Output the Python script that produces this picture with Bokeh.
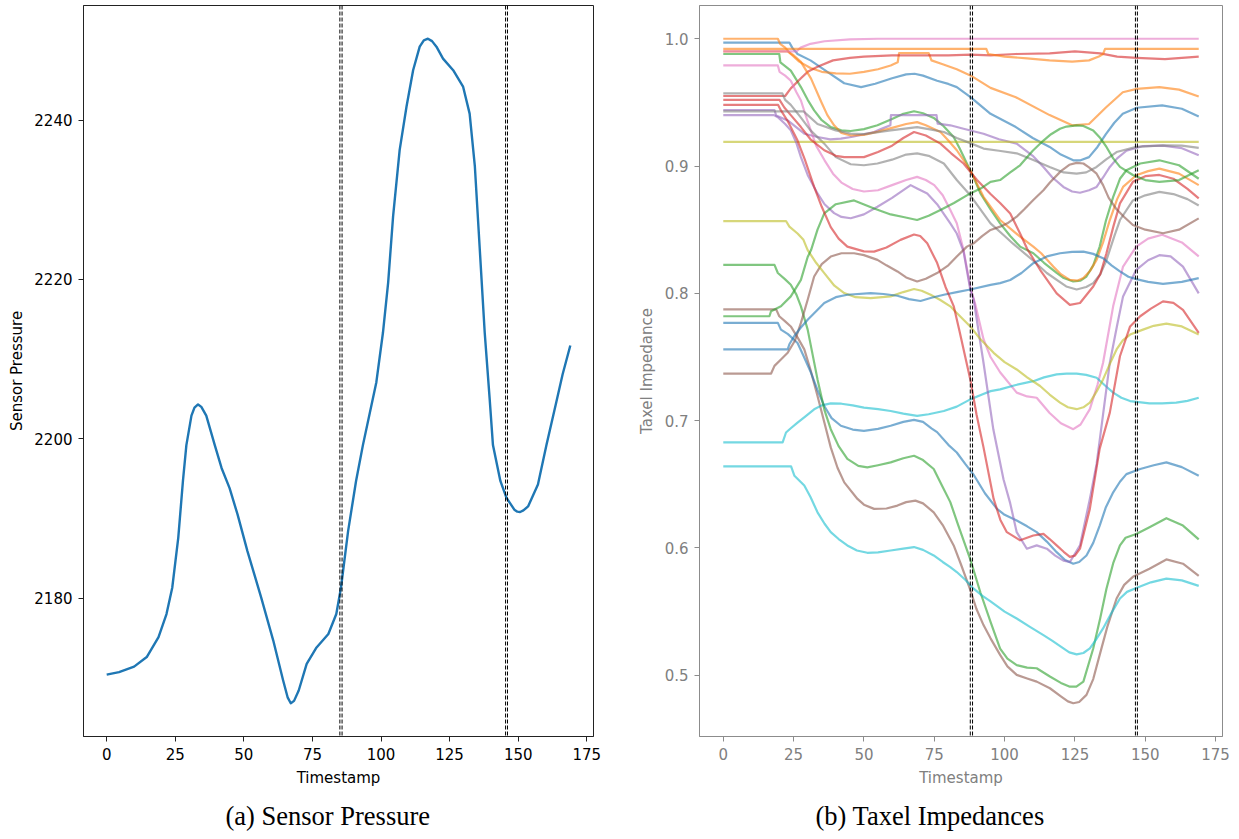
from bokeh.plotting import figure
from bokeh.layouts import row
from bokeh.models import Range1d, FixedTicker, PrintfTickFormatter, Span, Title
from bokeh.embed import file_html
from bokeh.resources import INLINE

# ---------------- sensor pressure trace ----------------
pressure_t = [0, 4.5, 10, 14.6, 18.9, 21.8, 23.9, 26.1, 27.8, 29.05, 30.9, 32.0, 33.3, 34.5,
              36.3, 39.4, 41.9, 44.8, 47.7, 51.3, 56.3, 60.7, 64.3, 66.0, 67.1, 68.3, 70, 72.9,
              76.5, 80.8, 83.7, 85.4, 88, 90.9, 93.4, 98.3, 100.7, 102.6, 104.4, 106.8, 109.3,
              111.7, 114.1, 115.6, 117.1, 118.6, 120.2, 122.6, 126.3, 129.9, 132.3, 134.2, 136,
              137.8, 139.6, 140.8, 143.5, 145.7, 148.6, 149.7, 150.7, 151.9, 153.6, 157.2,
              160.3, 163.9, 166.2, 169]
pressure_v = [2170.4, 2170.7, 2171.4, 2172.6, 2175.1, 2178.0, 2181.3, 2187.6, 2194.7, 2199.2,
              2202.9, 2203.9, 2204.3, 2204.0, 2202.9, 2199.2, 2196.3, 2193.8, 2190.5, 2185.9,
              2180.1, 2174.7, 2169.7, 2167.5, 2166.8, 2167.1, 2168.4, 2171.75, 2173.8, 2175.5,
              2178.0, 2181.3, 2188.4, 2194.7, 2199.2, 2207.1, 2213.3, 2219.6, 2227.9, 2236.25,
              2241.7, 2246.25, 2249.2, 2250.0, 2250.2, 2249.9, 2249.2, 2247.7, 2246.25, 2244.2,
              2240.8, 2234.2, 2223.75, 2213.3, 2205.0, 2199.2, 2194.7, 2192.6, 2191.1, 2190.85,
              2190.8, 2191.0, 2191.5, 2194.25, 2199.2, 2204.6, 2208.1, 2211.7]

# contact-phase markers (pairs of dashed edges)
pressure_marks = [85.0, 85.8, 145.4, 146.1]
taxel_marks = [87.8, 88.6, 146.5, 147.2]

# ---------------- taxel impedance traces: (timestamp, impedance) ----------------
pink_top = [(0, 0.990), (26, 0.990), (27.5, 0.993), (31, 0.996), (36, 0.998), (45, 0.9995),
            (55, 1.0), (169, 1.0)]
orange_flat = [(0, 0.992), (93.5, 0.992), (94.2, 0.988), (100, 0.986), (108, 0.9845),
               (116, 0.983), (124, 0.982), (130, 0.983), (133.5, 0.986), (135, 0.988),
               (135.7, 0.992), (169, 0.992)]
red_top = [(0, 0.955), (22, 0.955), (24, 0.961), (27.6, 0.969), (30, 0.974), (33.5, 0.978),
           (39, 0.983), (45, 0.985), (50, 0.986), (60, 0.987), (70, 0.987), (80, 0.987),
           (88, 0.9875), (95, 0.987), (104, 0.988), (116, 0.9885), (125, 0.990), (134, 0.9885),
           (140, 0.986), (147, 0.985), (157, 0.984), (169, 0.986)]
orange_down = [(0, 1.0), (19.4, 1.0), (20.2, 0.996), (22, 0.993), (24, 0.988), (27, 0.982),
               (31, 0.977), (35, 0.974), (40, 0.9728), (45, 0.9725), (50, 0.974), (55, 0.976),
               (59.5, 0.979), (62, 0.9815), (62.5, 0.9888), (73, 0.9888), (74, 0.983),
               (78, 0.980), (83, 0.976), (88, 0.971), (95, 0.9614), (104, 0.954), (116, 0.940),
               (124, 0.932), (130, 0.933), (136, 0.946), (142, 0.958), (147, 0.9606),
               (155, 0.962), (162, 0.960), (169, 0.9546)]
blue_top = [(0, 0.997), (23.5, 0.997), (24.5, 0.993), (26.4, 0.988), (31, 0.983), (37, 0.974),
            (43, 0.965), (49, 0.962), (54, 0.9646), (60, 0.969), (65, 0.972), (68, 0.9725),
            (71, 0.971), (76, 0.967), (80, 0.9645), (83, 0.962), (88, 0.954), (95, 0.941),
            (104, 0.9306), (110, 0.922), (116, 0.915), (120, 0.909), (124.4, 0.9045),
            (127, 0.9045), (130, 0.907), (133, 0.915), (136, 0.925), (139, 0.934), (142, 0.941),
            (147, 0.9458), (156, 0.9476), (163, 0.945), (169, 0.939)]
olive_flat = [(0, 0.919), (169, 0.919)]
pink_mid = [(0, 0.979), (19.4, 0.979), (20, 0.974), (22, 0.971), (24, 0.967), (26, 0.958),
            (27.6, 0.9515), (30, 0.935), (33, 0.916), (36, 0.9045), (39, 0.894), (42, 0.887),
            (46, 0.882), (50, 0.88), (55, 0.881), (60, 0.885), (65, 0.889), (68.9, 0.8915),
            (72, 0.889), (75, 0.885), (78, 0.877), (80.7, 0.8654), (83, 0.855), (85.4, 0.834),
            (87.8, 0.805), (89.5, 0.792), (92.5, 0.764), (95, 0.75), (98.4, 0.738),
            (104.3, 0.722), (108, 0.719), (111.4, 0.718), (116, 0.706), (120, 0.698),
            (124.4, 0.6933), (127, 0.697), (130.3, 0.709), (133, 0.728), (135, 0.7455),
            (138.6, 0.79), (142.1, 0.821), (146.8, 0.8367), (151, 0.843), (156, 0.846),
            (163, 0.840), (169, 0.829)]
gray_low = [(0, 0.957), (21, 0.957), (22, 0.952), (24, 0.948), (27.6, 0.938), (31, 0.928),
            (35.9, 0.9176), (40, 0.907), (45.3, 0.9014), (50, 0.9006), (54.8, 0.902),
            (60, 0.905), (65, 0.909), (68.9, 0.91), (73, 0.908), (78.4, 0.902), (83, 0.889),
            (87.8, 0.877), (95, 0.855), (100, 0.845), (103, 0.839), (110, 0.826), (115, 0.816),
            (121.9, 0.8054), (125.6, 0.803), (129, 0.805), (131.5, 0.808), (134, 0.815),
            (136.2, 0.826), (139, 0.845), (141, 0.8576), (145.6, 0.873), (150, 0.877),
            (155, 0.8797), (160, 0.878), (165, 0.874), (169, 0.869)]
gray_high = [(0, 0.943), (28.5, 0.943), (30, 0.940), (33.5, 0.933), (40, 0.928), (45.3, 0.9254),
             (50, 0.925), (59.5, 0.928), (68.9, 0.9306), (73, 0.929), (78.4, 0.9267),
             (83, 0.922), (87.8, 0.918), (92.5, 0.9137), (98, 0.912), (104.3, 0.91),
             (110, 0.905), (116, 0.8993), (121, 0.895), (125.6, 0.894), (129, 0.895),
             (132.7, 0.8993), (136, 0.905), (139.8, 0.911), (146.8, 0.915), (156.3, 0.9163),
             (163, 0.916), (169, 0.9142)]
purple_high = [(0, 0.944), (18.2, 0.944), (18.8, 0.9397), (22.9, 0.9358), (28.8, 0.9254),
               (33.5, 0.9228), (38, 0.921), (41.8, 0.9215), (46, 0.923), (50, 0.925),
               (53.6, 0.9267), (56, 0.929), (59.4, 0.932), (59.6, 0.940), (75.8, 0.940),
               (76.2, 0.9333), (80.7, 0.932), (85.4, 0.9293), (92.5, 0.9254), (98, 0.921),
               (104.3, 0.9176), (110, 0.908), (113.8, 0.8993), (117, 0.891), (120.9, 0.8836),
               (124, 0.880), (126.8, 0.879), (130, 0.881), (132.7, 0.8836), (135, 0.891),
               (137.4, 0.8993), (140, 0.906), (143.3, 0.912), (149.2, 0.9157), (156.3, 0.916),
               (163, 0.914), (169, 0.9085)]
purple_low = [(0, 0.940), (18, 0.940), (19.4, 0.9384), (22, 0.933), (24, 0.928), (26, 0.918),
              (27.6, 0.907), (30, 0.893), (33.5, 0.8785), (36, 0.870), (39.4, 0.863),
              (42, 0.86), (45.3, 0.859), (50, 0.862), (54.8, 0.868), (60, 0.875),
              (66.6, 0.885), (68.9, 0.8824), (72.5, 0.8785), (76, 0.87), (80.7, 0.855),
              (83, 0.847), (85.4, 0.833), (87.8, 0.803), (89, 0.795), (92.5, 0.7455),
              (96, 0.693), (99.6, 0.654), (102, 0.635), (104.3, 0.6124), (107.9, 0.5994),
              (111.4, 0.602), (115, 0.5994), (118, 0.594), (120.9, 0.59), (123.2, 0.589),
              (126.8, 0.602), (130.3, 0.6385), (132.7, 0.666), (135, 0.705), (137.4, 0.7455),
              (140, 0.775), (142.1, 0.7976), (146.8, 0.8185), (151, 0.826), (155, 0.830),
              (159, 0.829), (163.4, 0.821), (169, 0.80)]
red_mid = [(0, 0.952), (20, 0.952), (21.7, 0.946), (24, 0.94), (27.6, 0.9306), (31, 0.921),
           (35.9, 0.9124), (40, 0.908), (43, 0.907), (50, 0.907), (55, 0.911), (60, 0.916),
           (64, 0.922), (67.8, 0.9267), (72, 0.924), (77.2, 0.9176), (81, 0.91), (85.4, 0.902),
           (90.2, 0.889), (95, 0.878), (98.4, 0.871), (102, 0.8628), (105.5, 0.847),
           (108, 0.835), (112.6, 0.8185), (118.5, 0.80), (123.2, 0.791), (126.8, 0.7924),
           (131.5, 0.8054), (134, 0.815), (136.2, 0.8315), (138.6, 0.852), (141, 0.8707),
           (145.6, 0.8876), (150, 0.892), (155, 0.893), (160, 0.890), (165, 0.882),
           (169, 0.8746)]
red_low = [(0, 0.948), (19.5, 0.948), (20.5, 0.9437), (23, 0.935), (26.4, 0.92), (29, 0.905),
           (32.3, 0.8837), (35, 0.868), (38.2, 0.852), (41, 0.843), (44.1, 0.8367),
           (50, 0.833), (53.6, 0.8328), (58, 0.836), (63, 0.842), (67.8, 0.8462), (70, 0.845),
           (72.5, 0.8393), (76, 0.824), (79, 0.805), (81.9, 0.79), (84, 0.770), (87.8, 0.7324),
           (90, 0.705), (92.5, 0.679), (96.1, 0.6385), (98.5, 0.622), (100.8, 0.6124),
           (105.5, 0.606), (110.2, 0.6098), (113.8, 0.611), (116, 0.607), (118.5, 0.602),
           (121, 0.597), (123.2, 0.593), (125, 0.594), (126.8, 0.5994), (130.3, 0.6307),
           (133.8, 0.678), (137.4, 0.7063), (141, 0.7506), (144.6, 0.774), (148.2, 0.782),
           (152, 0.788), (156.3, 0.7937), (160, 0.7925), (163.4, 0.787), (169, 0.769)]
orange_mid = [(0, 0.990), (22.9, 0.990), (25, 0.987), (27.6, 0.9818), (31.2, 0.9687),
              (34.8, 0.9505), (37, 0.94), (39.4, 0.932), (42, 0.926), (45.3, 0.924),
              (50, 0.9245), (55, 0.927), (60, 0.930), (65, 0.933), (68.9, 0.9345), (72, 0.932),
              (77.2, 0.9267), (80, 0.920), (83, 0.9124), (87.8, 0.8967), (92.5, 0.8758),
              (98.4, 0.8576), (105.5, 0.8445), (110.2, 0.8367), (113, 0.8315), (117.3, 0.821),
              (120, 0.815), (123.2, 0.8106), (126, 0.810), (128, 0.812), (130.5, 0.818),
              (132.7, 0.8263), (135, 0.840), (137.4, 0.8576), (140, 0.874), (142.1, 0.8836),
              (146.8, 0.8928), (151, 0.896), (155, 0.898), (162, 0.894), (169, 0.885)]
green_top = [(0, 0.988), (19.9, 0.988), (20.3, 0.9815), (24, 0.975), (27.6, 0.962), (30, 0.952),
             (32.3, 0.9437), (35, 0.936), (38.2, 0.9306), (42, 0.928), (45.3, 0.9275),
             (50, 0.929), (54.8, 0.932), (60, 0.937), (64, 0.941), (67.8, 0.943), (71, 0.9415),
             (74.8, 0.9378), (78, 0.932), (81.9, 0.9228), (84, 0.914), (86.6, 0.902),
             (89, 0.891), (91.4, 0.8785), (95, 0.866), (98.4, 0.855), (102, 0.845),
             (105.5, 0.8367), (110.2, 0.8315), (114, 0.824), (118.5, 0.816), (121, 0.812),
             (124.4, 0.8093), (127, 0.810), (129.1, 0.8132), (131.5, 0.822), (133.8, 0.8367),
             (136, 0.857), (138.6, 0.8758), (141, 0.890), (143.3, 0.8967), (148.2, 0.902),
             (155, 0.9045), (162, 0.9006), (169, 0.890)]
green_up = [(0, 0.782), (16.4, 0.782), (17, 0.786), (20.5, 0.7898), (24, 0.7976),
            (27.6, 0.8106), (30, 0.8285), (31.2, 0.834), (33.5, 0.85), (35.9, 0.8628),
            (40, 0.870), (46.5, 0.873), (53.6, 0.8667), (59.5, 0.862), (64, 0.860),
            (68.9, 0.8576), (73, 0.861), (77.2, 0.8654), (82, 0.871), (87.8, 0.8785),
            (92, 0.883), (95, 0.8876), (98.4, 0.889), (102, 0.895), (105.5, 0.9006),
            (110, 0.912), (113.8, 0.920), (116.5, 0.925), (119.7, 0.9293), (122, 0.931),
            (125.6, 0.932), (128, 0.9315), (131.5, 0.928), (134, 0.922), (136.2, 0.915),
            (138.6, 0.906), (141, 0.8993), (145.6, 0.893), (150, 0.889), (155, 0.8876),
            (162, 0.889), (169, 0.8967)]
green_low = [(0, 0.8224), (18.2, 0.8224), (19.4, 0.816), (22, 0.811), (24, 0.8067), (26, 0.799),
             (27.6, 0.7898), (30, 0.7715), (33.5, 0.7324), (36, 0.708), (38.2, 0.6933),
             (41, 0.68), (44.1, 0.67), (48, 0.6645), (51.2, 0.6633), (55, 0.665),
             (59.5, 0.6672), (64, 0.6705), (67.8, 0.6724), (71, 0.669), (74.8, 0.662),
             (77.5, 0.650), (80.7, 0.636), (83.5, 0.618), (87.8, 0.591), (91.4, 0.565),
             (95, 0.542), (98.4, 0.521), (101, 0.513), (104.3, 0.508), (108, 0.506),
             (111.4, 0.5055), (116.1, 0.499), (120, 0.494), (123.2, 0.491), (125.5, 0.491),
             (128, 0.495), (131.5, 0.521), (134, 0.545), (136.2, 0.568), (138.6, 0.588),
             (141, 0.602), (143, 0.608), (146.8, 0.611), (151.5, 0.6163), (157.5, 0.6234),
             (163.4, 0.6176), (169, 0.6067)]
blue_low = [(0, 0.7768), (19.4, 0.7768), (20.5, 0.7715), (23, 0.768), (26.4, 0.761),
            (28.5, 0.751), (31.2, 0.7376), (33.5, 0.724), (35.9, 0.7115), (38.5, 0.702),
            (41.8, 0.696), (46, 0.693), (50, 0.692), (55, 0.6935), (59.5, 0.696), (64, 0.699),
            (67.8, 0.7006), (71, 0.699), (74, 0.694), (76, 0.691), (80, 0.681), (83, 0.675),
            (86, 0.666), (89, 0.6575), (93, 0.643), (97.3, 0.6307), (100, 0.626),
            (104.3, 0.6215), (108, 0.617), (111.4, 0.6124), (115, 0.605), (118.5, 0.5967),
            (121.5, 0.5905), (124.4, 0.5876), (126.5, 0.589), (129.1, 0.5941), (131.5, 0.604),
            (133.8, 0.6176), (136, 0.632), (138.6, 0.6437), (141, 0.652), (143.3, 0.658),
            (148.2, 0.662), (153, 0.665), (157.5, 0.6672), (163, 0.6635), (169, 0.6567)]
blue_up = [(0, 0.756), (22.9, 0.756), (23.5, 0.760), (25.2, 0.7663), (27.5, 0.773), (30, 0.7793),
           (33, 0.786), (35.9, 0.7924), (40, 0.797), (44.1, 0.7989), (52.4, 0.8002),
           (57, 0.7995), (61.9, 0.7981), (66, 0.7955), (70.1, 0.794), (74, 0.7965),
           (78.4, 0.7989), (83, 0.801), (87.8, 0.803), (95, 0.8067), (98.4, 0.808),
           (102, 0.8105), (106, 0.816), (110.2, 0.8237), (115, 0.829), (119.7, 0.8315),
           (124, 0.8325), (128, 0.8328), (131.5, 0.831), (135, 0.8276), (138, 0.822),
           (141, 0.8172), (144, 0.813), (146.8, 0.8112), (151, 0.809), (156.3, 0.8075),
           (163, 0.809), (169, 0.812)]
olive_low = [(0, 0.8568), (22.3, 0.8568), (23.5, 0.8524), (26.4, 0.847), (28.5, 0.842),
             (30, 0.834), (33, 0.824), (35.9, 0.8159), (39.5, 0.806), (43, 0.8002), (47, 0.797),
             (52.4, 0.7963), (59.5, 0.7976), (64, 0.801), (67.8, 0.8034), (70.5, 0.802),
             (73.7, 0.7989), (77, 0.795), (80.7, 0.7898), (83, 0.7846), (87.8, 0.774),
             (91, 0.765), (96.1, 0.7533), (100, 0.746), (104.3, 0.7402), (108, 0.734),
             (112.6, 0.7272), (116, 0.7205), (119.7, 0.7142), (122.5, 0.7105), (125.6, 0.709),
             (128, 0.7105), (130.3, 0.7142), (133, 0.724), (135, 0.7324), (137.5, 0.745),
             (139.8, 0.7559), (142, 0.763), (144.6, 0.7676), (149.2, 0.7715), (153, 0.7745),
             (157.5, 0.7762), (163, 0.774), (169, 0.7676)]
brown_up = [(0, 0.737), (17, 0.737), (18.2, 0.743), (20.5, 0.748), (22.9, 0.7533), (25.5, 0.763),
            (27.6, 0.7768), (30, 0.795), (32.3, 0.8132), (35, 0.823), (38.2, 0.8289),
            (42, 0.8315), (46.5, 0.8315), (50, 0.830), (54.8, 0.8263), (58, 0.822),
            (61.9, 0.8172), (65, 0.8125), (68.9, 0.8093), (72, 0.8115), (76, 0.8159), (80, 0.822),
            (83, 0.8289), (86.6, 0.8367), (89, 0.8393), (92, 0.845), (95, 0.8498),
            (98.4, 0.8524), (101, 0.855), (104.3, 0.8602), (107, 0.866), (110.2, 0.8733),
            (113.8, 0.881), (116.1, 0.887), (120, 0.896), (123, 0.901), (125.6, 0.9025),
            (128, 0.902), (130, 0.899), (132.7, 0.894), (135, 0.885), (137, 0.875),
            (139.8, 0.866), (142.5, 0.860), (145.6, 0.8537), (150, 0.850), (156.3, 0.8472),
            (162, 0.850), (169, 0.8589)]
brown_down = [(0, 0.7874), (18.8, 0.7874), (19.9, 0.782), (22, 0.778), (24, 0.774),
              (26.5, 0.765), (28.8, 0.756), (31, 0.74), (33.5, 0.7194), (36, 0.698),
              (38.2, 0.679), (40.6, 0.663), (43, 0.6515), (47.7, 0.6385), (50, 0.634),
              (53.6, 0.6307), (58, 0.631), (61.9, 0.6333), (65, 0.636), (68.3, 0.6372),
              (71, 0.635), (74.8, 0.628), (78, 0.618), (81.9, 0.602), (84.5, 0.587),
              (87.8, 0.567), (90, 0.552), (92.5, 0.5394), (95, 0.529), (98.4, 0.516),
              (101, 0.507), (104.3, 0.5003), (108, 0.4975), (111.4, 0.495), (116.1, 0.4898),
              (120, 0.4835), (122.5, 0.4795), (124.4, 0.478), (126.5, 0.479), (129.1, 0.4846),
              (131.5, 0.497), (133.8, 0.516), (136.5, 0.538), (139.8, 0.5603), (142.5, 0.571),
              (145.6, 0.5773), (151.5, 0.5837), (157.5, 0.591), (163.4, 0.5876), (169, 0.578)]
cyan_up = [(0, 0.683), (21.1, 0.683), (22.3, 0.6907), (24, 0.694), (26.4, 0.6985), (29, 0.703),
           (32.3, 0.7089), (35, 0.712), (38.2, 0.7136), (42, 0.7133), (46, 0.712), (50, 0.7102),
           (55, 0.709), (59.5, 0.7076), (64, 0.7055), (68.9, 0.7037), (73, 0.705),
           (78.4, 0.7076), (83, 0.711), (87.8, 0.7167), (92, 0.7205), (95, 0.7232),
           (98.4, 0.7246), (104, 0.728), (110.2, 0.731), (114, 0.734), (118.5, 0.7363),
           (122, 0.737), (125.6, 0.737), (129, 0.736), (132.7, 0.7337), (135.5, 0.728),
           (138.6, 0.722), (141.5, 0.718), (144.6, 0.7154), (151.5, 0.7136), (156, 0.7135),
           (161, 0.7142), (165, 0.7155), (169, 0.718)]
cyan_down = [(0, 0.6641), (24.1, 0.6641), (25.3, 0.6567), (27, 0.653), (28.8, 0.649), (31, 0.64),
             (33.5, 0.628), (36, 0.619), (38.2, 0.6124), (41, 0.607), (44.1, 0.602),
             (47.5, 0.598), (51.2, 0.5962), (55, 0.5965), (59.5, 0.598), (64, 0.5995),
             (67.8, 0.6007), (71, 0.5985), (74.8, 0.5941), (78, 0.589), (80.7, 0.585),
             (83, 0.5811), (86, 0.575), (89, 0.568), (92, 0.5625), (95, 0.558), (100, 0.550),
             (104.3, 0.5446), (109, 0.538), (113.8, 0.5315), (117, 0.527), (120.9, 0.5211),
             (123, 0.518), (125.6, 0.5164), (128, 0.5175), (130.3, 0.5211), (132.5, 0.528),
             (135, 0.5368), (138, 0.549), (141, 0.5603), (143.5, 0.5655), (146.8, 0.5686),
             (152, 0.573), (157.5, 0.5759), (163, 0.5745), (169, 0.5702)]

BLUE, ORANGE, GREEN, RED, PURPLE = "#1f77b4", "#ff7f0e", "#2ca02c", "#d62728", "#9467bd"
BROWN, PINK, GRAY, OLIVE, CYAN = "#8c564b", "#e377c2", "#7f7f7f", "#bcbd22", "#17becf"

taxel_series = [
    (blue_top, BLUE), (orange_down, ORANGE), (green_top, GREEN), (red_top, RED),
    (purple_high, PURPLE), (brown_down, BROWN), (pink_mid, PINK), (gray_low, GRAY),
    (olive_flat, OLIVE), (cyan_up, CYAN),
    (blue_low, BLUE), (orange_mid, ORANGE), (green_low, GREEN), (red_mid, RED),
    (purple_low, PURPLE), (brown_up, BROWN), (pink_top, PINK), (gray_high, GRAY),
    (olive_low, OLIVE), (cyan_down, CYAN),
    (blue_up, BLUE), (orange_flat, ORANGE), (green_up, GREEN), (red_low, RED),
]

FONT = "DejaVu Sans"
SERIF = "Liberation Serif"


def padded(lo, hi, frac=0.05):
    d = (hi - lo) * frac
    return lo - d, hi + d


def style_axes(p, text_color, line_color, ylabel_standoff):
    for ax in (p.xaxis[0], p.yaxis[0]):
        ax.axis_line_color = line_color
        ax.major_tick_line_color = line_color
        ax.minor_tick_line_color = None
        ax.major_tick_in = 0
        ax.major_tick_out = 5
        ax.major_label_text_font = FONT
        ax.major_label_text_font_size = "15px"
        ax.major_label_text_color = text_color
        ax.axis_label_text_font = FONT
        ax.axis_label_text_font_size = "15px"
        ax.axis_label_text_font_style = "normal"
        ax.axis_label_text_color = text_color
        ax.major_label_standoff = 6
    p.xaxis.axis_label_standoff = 6
    p.yaxis.axis_label_standoff = ylabel_standoff
    p.xgrid.visible = False
    p.ygrid.visible = False
    p.outline_line_color = line_color
    p.outline_line_width = 1


def caption(p, text, offset):
    # caption sits below the x axis, left-aligned with a pixel offset from the frame edge
    p.title = Title(text=text, align="left", offset=offset, text_font=SERIF,
                    text_font_size="26.5px", text_font_style="normal", text_color="black",
                    standoff=18)
    p.title_location = "below"


# ---------------- (a) sensor pressure ----------------
x_lo, x_hi = padded(0, max(pressure_t))
y_lo, y_hi = padded(min(pressure_v), max(pressure_v))
p1 = figure(width=603, height=839, output_backend="svg", toolbar_location=None,
            x_range=Range1d(x_lo, x_hi), y_range=Range1d(y_lo, y_hi),
            min_border_left=83, min_border_right=10, min_border_top=5, min_border_bottom=101,
            x_axis_label="Timestamp", y_axis_label="Sensor Pressure")
p1.line(pressure_t, pressure_v, line_color=BLUE, line_width=2.4, line_join="round")
for m in pressure_marks:
    p1.add_layout(Span(location=m, dimension="height", line_color="black",
                       line_width=1, line_dash="4 2"))
p1.xaxis.ticker = FixedTicker(ticks=[0, 25, 50, 75, 100, 125, 150, 175])
p1.yaxis.ticker = FixedTicker(ticks=[2180, 2200, 2220, 2240])
style_axes(p1, "black", "#222222", 5)
caption(p1, "(a) Sensor Pressure", 142)

# ---------------- (b) taxel impedances ----------------
all_v = [v for s, _ in taxel_series for _, v in s]
all_t = [t for s, _ in taxel_series for t, _ in s]
tx_lo, tx_hi = padded(0, max(all_t))
ty_lo, ty_hi = padded(min(all_v), max(all_v))
p2 = figure(width=636, height=839, output_backend="svg", toolbar_location=None,
            x_range=Range1d(tx_lo, tx_hi), y_range=Range1d(ty_lo, ty_hi),
            min_border_left=96, min_border_right=17, min_border_top=5, min_border_bottom=101,
            x_axis_label="Timestamp", y_axis_label="Taxel Impedance")
for series, color in taxel_series:
    p2.line([t for t, _ in series], [v for _, v in series], line_color=color,
            line_width=2.2, line_alpha=0.6, line_join="round")
for m in taxel_marks:
    p2.add_layout(Span(location=m, dimension="height", line_color="black",
                       line_width=1, line_dash="4 2"))
p2.xaxis.ticker = FixedTicker(ticks=[0, 25, 50, 75, 100, 125, 150, 175])
p2.yaxis.ticker = FixedTicker(ticks=[0.5, 0.6, 0.7, 0.8, 0.9, 1.0])
p2.yaxis.formatter = PrintfTickFormatter(format="%.1f")
style_axes(p2, "#808080", "#8c8c8c", 6)
caption(p2, "(b) Taxel Impedances", 116)

layout = row(p1, p2)
open("out.html", "w").write(file_html(layout, INLINE))
